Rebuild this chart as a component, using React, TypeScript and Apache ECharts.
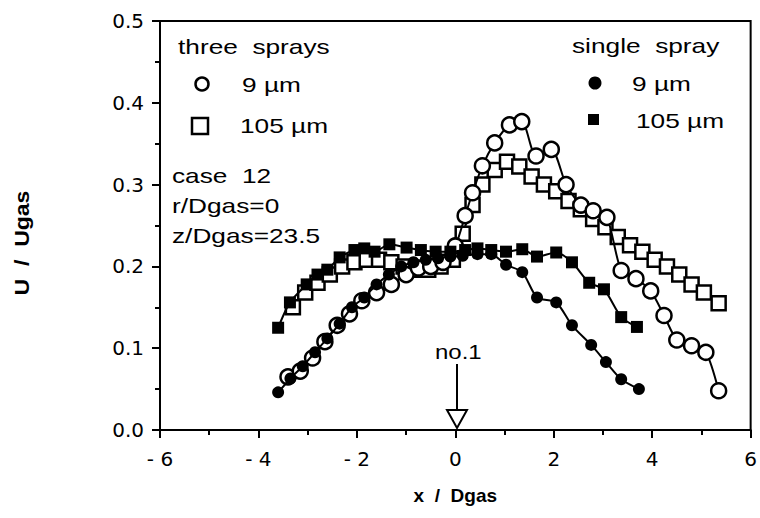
import React, { useEffect, useRef } from "react";
import * as echarts from "echarts";

// single spray, 9 µm (filled circles)
const single9X = [-3.6, -3.35, -3.1, -2.85, -2.6, -2.35, -2.1, -1.85, -1.6, -1.35, -1.1, -0.85, -0.6, -0.35, -0.1, 0.15, 0.45, 0.73, 1.03, 1.36, 1.66, 2.05, 2.37, 2.76, 3.06, 3.37, 3.73];
const single9Y = [0.046, 0.063, 0.078, 0.095, 0.112, 0.13, 0.15, 0.162, 0.178, 0.19, 0.2, 0.205, 0.208, 0.21, 0.212, 0.213, 0.215, 0.215, 0.202, 0.193, 0.162, 0.156, 0.128, 0.104, 0.083, 0.062, 0.05];

// three sprays, 9 µm (open circles)
const three9X = [-3.4, -3.15, -2.9, -2.65, -2.4, -2.15, -1.9, -1.6, -1.3, -1.0, -0.75, -0.5, -0.25, 0.0, 0.2, 0.35, 0.55, 0.8, 1.1, 1.35, 1.64, 1.95, 2.25, 2.55, 2.8, 3.08, 3.37, 3.67, 3.97, 4.24, 4.5, 4.8, 5.09, 5.35];
const three9Y = [0.065, 0.072, 0.088, 0.108, 0.128, 0.142, 0.158, 0.168, 0.178, 0.19, 0.198, 0.2, 0.205, 0.225, 0.262, 0.29, 0.323, 0.351, 0.373, 0.377, 0.335, 0.343, 0.3, 0.275, 0.268, 0.26, 0.195, 0.185, 0.17, 0.14, 0.11, 0.103, 0.095, 0.048];

// three sprays, 105 µm (open squares)
const three105X = [-3.3, -3.05, -2.8, -2.55, -2.3, -2.05, -1.8, -1.55, -1.3, -1.05, -0.8, -0.55, -0.3, -0.05, 0.15, 0.35, 0.55, 0.8, 1.05, 1.3, 1.55, 1.8, 2.05, 2.3, 2.55, 2.8, 3.05, 3.3, 3.55, 3.8, 4.05, 4.3, 4.55, 4.8, 5.05, 5.35];
const three105Y = [0.15, 0.168, 0.18, 0.19, 0.2, 0.205, 0.208, 0.208, 0.205, 0.2, 0.196, 0.196, 0.2, 0.208, 0.24, 0.275, 0.3, 0.318, 0.328, 0.322, 0.31, 0.3, 0.292, 0.28, 0.27, 0.258, 0.248, 0.236, 0.226, 0.218, 0.208, 0.2, 0.19, 0.178, 0.168, 0.155];

// single spray, 105 µm (filled squares)
const single105X = [-3.6, -3.36, -3.02, -2.8, -2.6, -2.35, -2.05, -1.85, -1.64, -1.34, -0.99, -0.7, -0.4, -0.1, 0.2, 0.45, 0.73, 1.03, 1.36, 1.66, 2.05, 2.37, 2.72, 3.02, 3.37, 3.69];
const single105Y = [0.125, 0.156, 0.178, 0.19, 0.196, 0.211, 0.22, 0.222, 0.218, 0.227, 0.223, 0.22, 0.218, 0.218, 0.22, 0.222, 0.22, 0.218, 0.221, 0.212, 0.217, 0.205, 0.18, 0.172, 0.138, 0.126];

const zip = (xs: number[], ys: number[]) => xs.map((x, i) => [x, ys[i]]);

const FONT = "Liberation Sans, Arial, Helvetica, sans-serif";
const TICKFONT = "DejaVu Sans, Verdana, sans-serif";

export default function App() {
  const ref = useRef<HTMLDivElement>(null);
  useEffect(() => {
    if (!ref.current) return;
    const chart = echarts.init(ref.current, undefined, { renderer: "svg" });
    const lineStyle = { color: "#000", width: 2 };
    const openItem = { color: "#fff", borderColor: "#000", borderWidth: 2.5 };
    const filledItem = { color: "#000", borderColor: "#000", borderWidth: 0 };
    const txt = (text: string, x: number, y: number, size = 21, sx = 1.25, extra: any = {}) => ({
      type: "text",
      x,
      y,
      scaleX: sx,
      style: { text, fill: "#000", font: `${size}px ${FONT}`, verticalAlign: "middle", align: "left", ...extra },
      z: 10,
    });
    chart.setOption({
      animation: false,
      backgroundColor: "#fff",
      grid: { left: 160, right: 8, top: 21, bottom: 88, show: true, borderColor: "#000", borderWidth: 2 },
      xAxis: {
        type: "value",
        min: -6,
        max: 6,
        interval: 2,
        axisLine: { onZero: false, lineStyle: { color: "#000", width: 2 } },
        axisTick: { show: true, length: 8, lineStyle: { color: "#000", width: 2 } },
        minorTick: { show: true, splitNumber: 2, length: 5, lineStyle: { color: "#000", width: 2 } },
        splitLine: { show: false },
        axisLabel: {
          color: "#000",
          fontSize: 20,
          fontFamily: TICKFONT,
          margin: 19,
          formatter: (v: number) => (v < 0 ? "- " + Math.abs(v) : String(v)),
        },
        name: "x  /  Dgas",
        nameLocation: "middle",
        nameGap: 56,
        nameTextStyle: { color: "#000", fontSize: 19, fontWeight: "bold", fontFamily: FONT },
      },
      yAxis: {
        type: "value",
        min: 0,
        max: 0.5,
        interval: 0.1,
        axisLine: { onZero: false, lineStyle: { color: "#000", width: 2 } },
        axisTick: { show: true, length: 8, lineStyle: { color: "#000", width: 2 } },
        minorTick: { show: true, splitNumber: 2, length: 5, lineStyle: { color: "#000", width: 2 } },
        splitLine: { show: false },
        axisLabel: {
          color: "#000",
          fontSize: 20,
          fontFamily: TICKFONT,
          margin: 16,
          formatter: (v: number) => v.toFixed(1),
        },
      },
      series: [
        {
          name: "three 105",
          type: "line",
          smooth: 0.25,
          data: zip(three105X, three105Y),
          symbol: "rect",
          symbolSize: 14,
          lineStyle,
          itemStyle: openItem,
          z: 2,
        },
        {
          name: "three 9",
          type: "line",
          smooth: 0.25,
          data: zip(three9X, three9Y),
          symbol: "circle",
          symbolSize: 15,
          lineStyle,
          itemStyle: openItem,
          z: 3,
        },
        {
          name: "single 105",
          type: "line",
          smooth: 0.25,
          data: zip(single105X, single105Y),
          symbol: "rect",
          symbolSize: 12,
          lineStyle,
          itemStyle: filledItem,
          z: 4,
        },
        {
          name: "single 9",
          type: "line",
          smooth: 0.25,
          data: zip(single9X, single9Y),
          symbol: "circle",
          symbolSize: 12,
          lineStyle,
          itemStyle: filledItem,
          z: 5,
        },
      ],
      graphic: [
        {
          type: "text",
          x: 22,
          y: 243,
          rotation: Math.PI / 2,
          scaleX: 1.15,
          style: { text: "U  /  Ugas", fill: "#000", font: `bold 20px ${FONT}`, align: "center", verticalAlign: "middle" },
          z: 10,
        },
        txt("three  sprays", 178, 46),
        { type: "circle", shape: { cx: 202, cy: 84, r: 6.5 }, style: { fill: "#fff", stroke: "#000", lineWidth: 2.5 }, z: 10 },
        txt("9 µm", 242, 84),
        { type: "rect", shape: { x: 192, y: 118, width: 16, height: 16 }, style: { fill: "#fff", stroke: "#000", lineWidth: 2.5 }, z: 10 },
        txt("105 µm", 240, 125),
        txt("case  12", 172, 175),
        txt("r/Dgas=0", 172, 205),
        txt("z/Dgas=23.5", 172, 235),
        txt("single  spray", 572, 45),
        { type: "circle", shape: { cx: 595, cy: 83, r: 6.5 }, style: { fill: "#000" }, z: 10 },
        txt("9 µm", 632, 83),
        { type: "rect", shape: { x: 588, y: 114, width: 11, height: 11 }, style: { fill: "#000" }, z: 10 },
        txt("105 µm", 636, 120),
        txt("no.1", 435, 352, 20, 1.2),
        { type: "line", shape: { x1: 457, y1: 364, x2: 457, y2: 412 }, style: { stroke: "#000", lineWidth: 2 }, z: 10 },
        { type: "polygon", shape: { points: [[447, 410], [467, 410], [457, 428]] }, style: { fill: "#fff", stroke: "#000", lineWidth: 2 }, z: 10 },
      ],
    });
    return () => chart.dispose();
  }, []);
  return <div ref={ref} style={{ position: "fixed", left: 0, top: 0, width: 760, height: 518 }} />;
}
